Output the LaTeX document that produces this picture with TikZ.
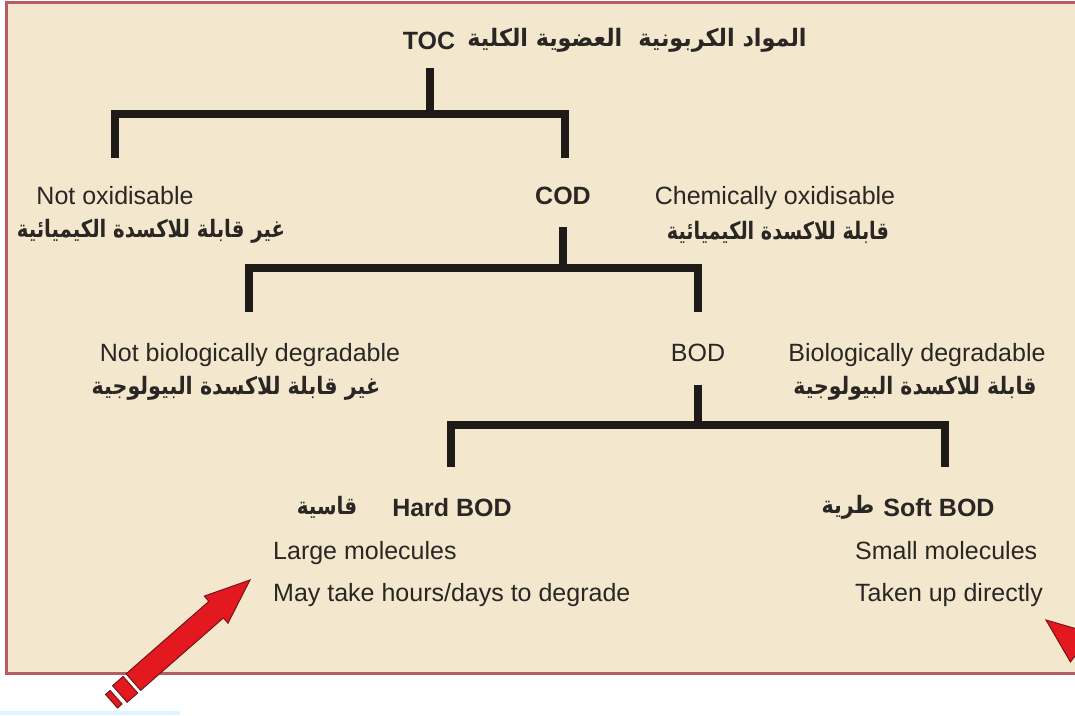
\documentclass[tikz,border=0pt]{standalone}
\usepackage{fontspec}
\usepackage{graphicx}
\setmainfont{Liberation Sans}
\newfontfamily\arabicfont[Script=Arabic]{DejaVu Sans}
\TeXXeTstate=1
\definecolor{panelfill}{HTML}{F3E8CE}
\definecolor{panelborder}{HTML}{B85C64}
\definecolor{brk}{HTML}{1E1A18}
\definecolor{txt}{HTML}{2A2624}
\definecolor{arrowred}{HTML}{E4191F}
\definecolor{arrowedge}{HTML}{7A1414}
\tikzset{
  lat/.style={text=txt, inner sep=0pt, anchor=base, font=\fontsize{25}{30}\selectfont},
  latb/.style={lat, font=\fontsize{25}{30}\selectfont\bfseries},
  arab/.style={text=txt, inner sep=0pt, anchor=center, font=\fontsize{24}{30}\selectfont\arabicfont\bfseries},
  brline/.style={draw=brk, line width=8.5pt, line join=miter, line cap=butt},
  redarrow/.style={fill=arrowred, draw=arrowedge, line width=1pt, line join=miter},
}
\begin{document}
\begin{tikzpicture}[x=1pt,y=-1pt]
\useasboundingbox (0,0) rectangle (1075,715);
\clip (0,0) rectangle (1075,715);
% panel
\draw[panelborder, line width=3pt, fill=panelfill] (6.5,2) rectangle (1095,673);
\fill[cyan!12] (0,711) rectangle (180,715);

% texts
\node[latb] (toc) at (429,49) {TOC};
\node[arab] (tocar) at (637,40) {\scalebox{0.93}[1]{\beginR المواد الكربونية\hspace{9pt} العضوية الكلية\endR}};

\node[lat] (notox) at (115,204) {Not oxidisable};
\node[arab] (notoxar) at (151,231) {\scalebox{0.82}[1]{\beginR غير قابلة للاكسدة الكيميائية\endR}};
\node[latb] (cod) at (563,204) {COD};
\node[lat] (chemox) at (775,204) {Chemically oxidisable};
\node[arab] (chemoxar) at (778,232) {\scalebox{0.80}[1]{\beginR قابلة للاكسدة الكيميائية\endR}};

\node[lat] (notbio) at (250,361) {Not biologically degradable};
\node[arab] (notbioar) at (236,388) {\scalebox{0.86}[1]{\beginR غير قابلة للاكسدة البيولوجية\endR}};
\node[lat] (bod) at (698,361) {BOD};
\node[lat] (bio) at (917,361) {Biologically degradable};
\node[arab] (bioar) at (915,388) {\scalebox{0.85}[1]{\beginR قابلة للاكسدة البيولوجية\endR}};

\node[arab] (hardar) at (327,507) {\scalebox{0.83}[1]{\beginR قاسية\endR}};
\node[latb] (hard) at (452,516) {Hard BOD};
\node[lat, anchor=base west] (large) at (273,559) {Large molecules};
\node[lat, anchor=base west] (slow) at (273,601) {May take hours/days to degrade};

\node[arab] (softar) at (848,507) {\scalebox{0.86}[1]{\beginR طرية\endR}};
\node[latb] (soft) at (939,516) {Soft BOD};
\node[lat, anchor=base west] (small) at (855,559) {Small molecules};
\node[lat, anchor=base west] (direct) at (855,601) {Taken up directly};

% bracket coordinates
\coordinate (tocstem) at (430,68);
\coordinate (tocbar) at (430,114);
\coordinate (tocL) at (115,158);
\coordinate (tocR) at (565,158);
\coordinate (codstem) at (563,227);
\coordinate (codbar) at (563,268);
\coordinate (codL) at (249,312);
\coordinate (codR) at (698,312);
\coordinate (bodstem) at (698,385);
\coordinate (bodbar) at (698,425);
\coordinate (bodL) at (451,467);
\coordinate (bodR) at (945,467);

\draw[brline] (tocstem) -- (tocbar);
\draw[brline] (tocL) |- (tocbar) -| (tocR);
\draw[brline] (codstem) -- (codbar);
\draw[brline] (codL) |- (codbar) -| (codR);
\draw[brline] (bodstem) -- (bodbar);
\draw[brline] (bodL) |- (bodbar) -| (bodR);

% red arrows
\begin{scope}[shift={(250,580)}, rotate=221.2]
  \draw[redarrow] (0,0) -- (45,18) -- (45,11) -- (155,11) -- (155,-11) -- (45,-11) -- (45,-18) -- cycle;
  \draw[redarrow] (159,-11) rectangle (173,11);
  \draw[redarrow] (178,-9) rectangle (184,9);
\end{scope}
\begin{scope}[shift={(1046,620)}, rotate=-38]
  \draw[redarrow] (0,0) -- (45,18) -- (45,11) -- (155,11) -- (155,-11) -- (45,-11) -- (45,-18) -- cycle;
\end{scope}
\end{tikzpicture}
\end{document}
